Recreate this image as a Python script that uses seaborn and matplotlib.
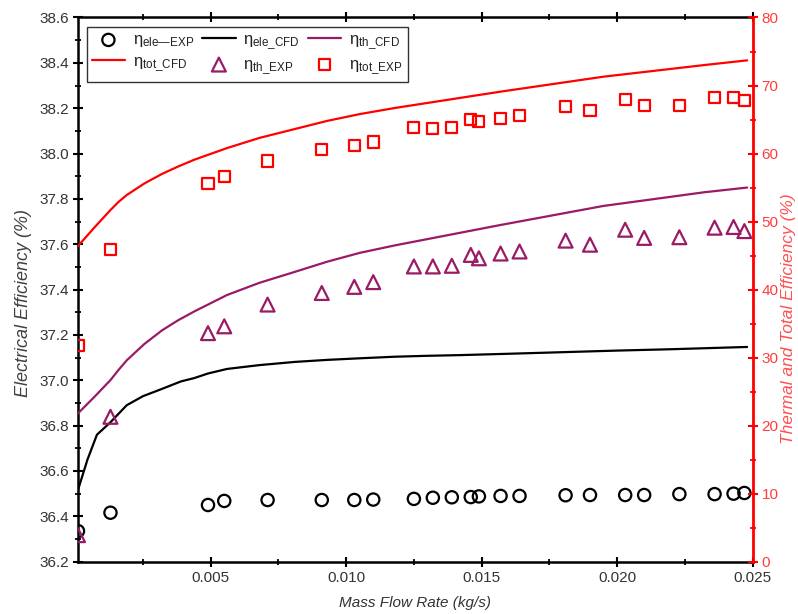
import matplotlib
matplotlib.use("Agg")
import matplotlib.pyplot as plt
import seaborn as sns
from matplotlib.ticker import MultipleLocator, FormatStrFormatter

# ---------------- data ----------------
flow_exp = [0.0001, 0.0013, 0.0049, 0.0055, 0.0071, 0.0091, 0.0103, 0.0110,
            0.0125, 0.0132, 0.0139, 0.0146, 0.0149, 0.0157, 0.0164, 0.0181,
            0.0190, 0.0203, 0.0210, 0.0223, 0.0236, 0.0243, 0.0247]
ele_exp = [36.335, 36.416, 36.450, 36.468, 36.472, 36.472, 36.472, 36.474,
           36.477, 36.482, 36.484, 36.485, 36.488, 36.490, 36.490, 36.493,
           36.494, 36.494, 36.494, 36.498, 36.498, 36.500, 36.503]
th_exp = [3.9, 21.3, 33.6, 34.6, 37.8, 39.5, 40.4, 41.1, 43.4, 43.4, 43.5,
          45.1, 44.6, 45.3, 45.6, 47.2, 46.6, 48.8, 47.6, 47.7, 49.1, 49.2, 48.6]
tot_exp = [31.8, 45.9, 55.6, 56.6, 58.9, 60.6, 61.2, 61.7, 63.8, 63.7, 63.8,
           65.0, 64.7, 65.2, 65.6, 66.9, 66.3, 68.0, 67.0, 67.1, 68.2, 68.3, 67.8]

flow_cfd_ele = [0.0001, 0.00045, 0.0008, 0.0013, 0.0019, 0.0025, 0.0032, 0.0039,
                0.0044, 0.0049, 0.0056, 0.0068, 0.0081, 0.0093, 0.0105, 0.0118,
                0.0130, 0.0142, 0.0160, 0.0180, 0.0200, 0.0220, 0.0248]
ele_cfd = [36.516, 36.650, 36.760, 36.815, 36.890, 36.930, 36.962, 36.995,
           37.010, 37.030, 37.050, 37.067, 37.081, 37.090, 37.097, 37.104,
           37.108, 37.111, 37.117, 37.124, 37.131, 37.137, 37.147]

flow_cfd = [0.0001, 0.0007, 0.0013, 0.0016, 0.0019, 0.00255, 0.0032, 0.0038,
            0.0044, 0.0056, 0.0068, 0.0081, 0.0093, 0.0105, 0.0118, 0.0131,
            0.0157, 0.0195, 0.0232, 0.0248]
th_cfd = [21.8, 24.2, 26.7, 28.2, 29.6, 32.0, 34.0, 35.5, 36.8, 39.2, 41.0,
          42.6, 44.1, 45.4, 46.5, 47.5, 49.5, 52.3, 54.3, 55.0]
tot_cfd = [46.4, 49.1, 51.7, 52.9, 53.9, 55.6, 57.0, 58.1, 59.1, 60.8, 62.3,
           63.6, 64.8, 65.8, 66.7, 67.5, 69.1, 71.3, 73.0, 73.7]

xticks = [0.005, 0.010, 0.015, 0.020, 0.025]

# ---------------- style ----------------
sns.set_theme(style="ticks")
plt.rcParams["font.family"] = ["Liberation Sans", "DejaVu Sans"]
plt.rcParams["mathtext.fontset"] = "custom"
plt.rcParams["mathtext.rm"] = "Liberation Sans"
plt.rcParams["mathtext.it"] = "Liberation Sans:italic"

PURPLE = "#9a1a66"
RED = "#ff0000"
TXT = "#333333"

fig = plt.figure(figsize=(7.98, 6.14), dpi=100)
ax = fig.add_axes([0.0977, 0.0852, 0.8453, 0.8863])
ax2 = ax.twinx()

L_ELE_EXP = r"$\mathrm{\eta}_{\mathrm{ele—EXP}}$"
L_ELE_CFD = r"$\mathrm{\eta}_{\mathrm{ele\_CFD}}$"
L_TH_CFD = r"$\mathrm{\eta}_{\mathrm{th\_CFD}}$"
L_TOT_CFD = r"$\mathrm{\eta}_{\mathrm{tot\_CFD}}$"
L_TH_EXP = r"$\mathrm{\eta}_{\mathrm{th\_EXP}}$"
L_TOT_EXP = r"$\mathrm{\eta}_{\mathrm{tot\_EXP}}$"

# left axis series
sns.lineplot(x=flow_cfd_ele, y=ele_cfd, ax=ax, color="black", linewidth=1.6,
             label=L_ELE_CFD, legend=False, zorder=3)
sns.scatterplot(x=flow_exp, y=ele_exp, ax=ax, marker="o", s=78,
                facecolor="none", edgecolor="black", linewidth=1.6,
                label=L_ELE_EXP, legend=False, zorder=4)

# right axis series
sns.lineplot(x=flow_cfd, y=th_cfd, ax=ax2, color=PURPLE, linewidth=1.6,
             label=L_TH_CFD, legend=False, zorder=3)
sns.lineplot(x=flow_cfd, y=tot_cfd, ax=ax2, color=RED, linewidth=1.6,
             label=L_TOT_CFD, legend=False, zorder=3)
sns.scatterplot(x=flow_exp, y=th_exp, ax=ax2, marker="^", s=100,
                facecolor="none", edgecolor=PURPLE, linewidth=1.6,
                label=L_TH_EXP, legend=False, zorder=4)
sns.scatterplot(x=flow_exp, y=tot_exp, ax=ax2, marker="s", s=64,
                facecolor="none", edgecolor=RED, linewidth=1.6,
                label=L_TOT_EXP, legend=False, zorder=4)

# limits & ticks
ax.set_xlim(0.0001, 0.025)
ax.set_ylim(36.2, 38.6)
ax2.set_ylim(0, 80)
ax.set_xticks(xticks)
ax.xaxis.set_major_formatter(FormatStrFormatter("%.3f"))
ax.xaxis.set_minor_locator(MultipleLocator(0.0025))
ax.yaxis.set_major_locator(MultipleLocator(0.2))
ax.yaxis.set_minor_locator(MultipleLocator(0.1))
ax.yaxis.set_major_formatter(FormatStrFormatter("%.1f"))
ax2.yaxis.set_major_locator(MultipleLocator(10))
ax2.yaxis.set_minor_locator(MultipleLocator(5))
ax2.yaxis.set_major_formatter(FormatStrFormatter("%d"))

ax.tick_params(axis="both", which="major", direction="inout", length=7, width=1.5,
               labelsize=11, labelcolor=TXT, color="black", pad=3)
ax.tick_params(axis="both", which="minor", direction="inout", length=4, width=1.3,
               color="black")
ax.tick_params(axis="x", which="both", top=True)
ax.tick_params(axis="y", which="both", right=False)
ax2.tick_params(axis="y", which="major", direction="inout", length=7, width=1.5,
                labelsize=11, labelcolor="#ff3c3c", color=RED, pad=3)
ax2.tick_params(axis="y", which="minor", direction="inout", length=4, width=1.3,
                color=RED)

for s in ["left", "bottom", "top"]:
    ax.spines[s].set_linewidth(1.8)
    ax.spines[s].set_color("black")
    ax2.spines[s].set_visible(False)
ax.spines["right"].set_visible(False)
ax2.spines["right"].set_color(RED)
ax2.spines["right"].set_linewidth(2.0)

ax.grid(False)
ax2.grid(False)

# labels
ax.set_xlabel("Mass Flow Rate (kg/s)", fontsize=11, fontstyle="italic", color=TXT)
ax.xaxis.set_label_coords(0.5, -0.063)
ax.set_ylabel("Electrical Efficiency (%)", fontsize=13, fontstyle="italic",
              color="#404040")
ax.yaxis.set_label_coords(-0.068, 0.475)
ax2.set_ylabel("Thermal and Total Efficiency (%)", fontsize=12.5,
               fontstyle="italic", color="#ff5050")
ax2.yaxis.set_label_coords(1.042, 0.446)

# legend (row-wise order as in the reference)
h1, l1 = ax.get_legend_handles_labels()
h2, l2 = ax2.get_legend_handles_labels()
hd = dict(zip(l1 + l2, h1 + h2))
order = [L_ELE_EXP, L_TOT_CFD, L_ELE_CFD, L_TH_EXP, L_TH_CFD, L_TOT_EXP]
leg = ax2.legend([hd[k] for k in order], order, ncol=3, loc="upper left",
                 bbox_to_anchor=(0.013, 0.982), borderaxespad=0, frameon=True,
                 fancybox=False, edgecolor="black", fontsize=12, handlelength=2.0,
                 columnspacing=0.5, handletextpad=0.45, labelspacing=0.3,
                 borderpad=0.3)
leg.get_frame().set_linewidth(1.0)
for t in leg.get_texts():
    t.set_color("#222222")

fig.savefig("out.png", dpi=100)
